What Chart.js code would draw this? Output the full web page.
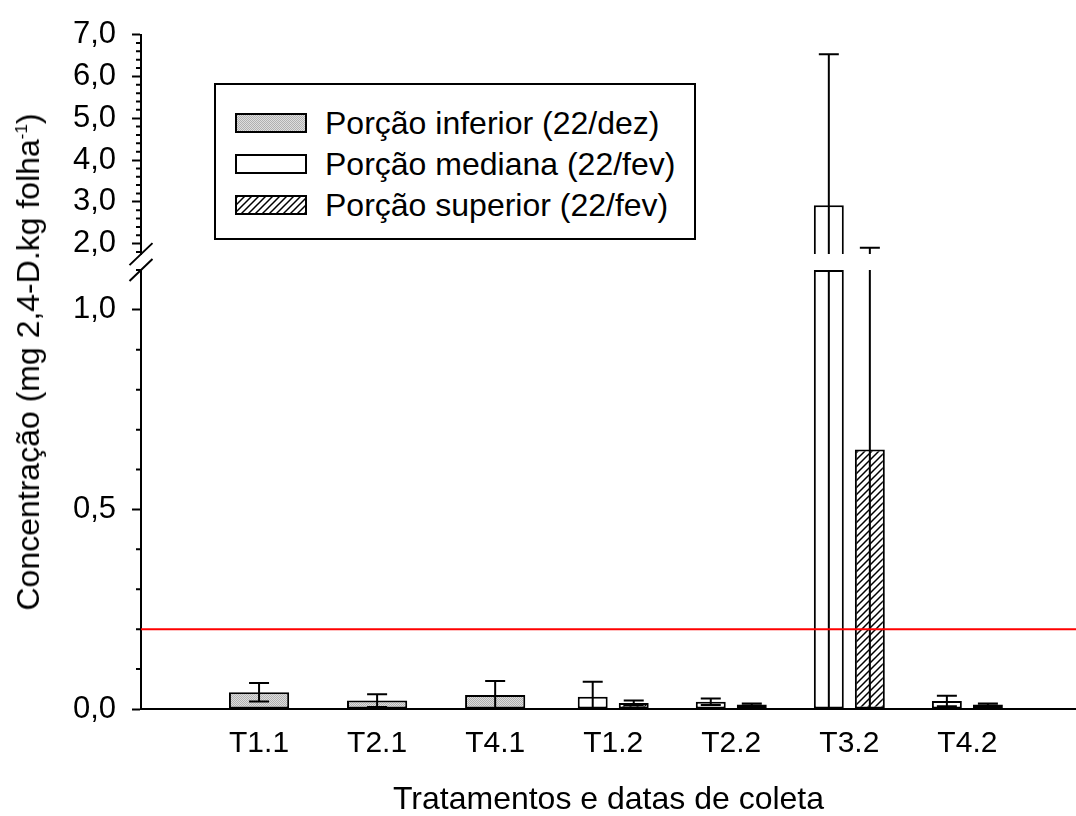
<!DOCTYPE html>
<html>
<head>
<meta charset="utf-8">
<script src="https://cdn.jsdelivr.net/npm/chart.js@4.4.0/dist/chart.umd.min.js"></script>
<style>
  body { margin: 0; background: #fff; }
  #wrap { position: relative; width: 1076px; height: 816px; font-family: 'Liberation Sans', Arial, sans-serif; color: #000; }
  #grafico { position: absolute; left: 0; top: 0; }
  #ytitulo { position: absolute; left: 28px; top: 362px; transform: translate(-50%, -50%) rotate(-90deg);
             white-space: nowrap; font-size: 32px; line-height: 1; }
  #ytitulo sup { font-size: 17px; line-height: 0; }
  #legenda { position: absolute; left: 214px; top: 83px; width: 482px; height: 157px; box-sizing: border-box;
             border: 2px solid #000; background: #fff; }
  .item { position: absolute; left: 235px; height: 36px; display: flex; align-items: center; }
  .caixa { width: 72px; height: 20px; box-sizing: border-box; border: 2px solid #000; margin-right: 18px; background: #fff; }
  .item span { font-size: 32px; line-height: 36px; white-space: nowrap; }
</style>
</head>
<body>
<div id="wrap">
  <canvas id="grafico" width="1076" height="816"></canvas>
  <div id="ytitulo">Concentração (mg 2,4-D.kg folha<sup>-1</sup>)</div>
  <div id="legenda"></div>
</div>
<script>
// valores (mg 2,4-D.kg folha-1)
var categorias = ['T1.1', 'T2.1', 'T4.1', 'T1.2', 'T2.2', 'T3.2', 'T4.2'];
var series = ['Porção inferior (22/dez)', 'Porção mediana (22/fev)', 'Porção superior (22/fev)'];

var inferior     = [0.042, 0.021, 0.035, null, null, null, null];
var erroInferior = [0.023, 0.016, 0.035, null, null, null, null];
var mediana      = [null, null, null, 0.031, 0.018, 2.92, 0.020];
var erroMediana  = [null, null, null, 0.037, 0.008, 3.61, 0.013];
var superior     = [null, null, null, 0.015, 0.011, 0.65, 0.011];
var erroSuperior = [null, null, null, 0.006, 0.003, 1.25, 0.003];

var limite = 0.2;   // linha vermelha

// eixo y quebrado
var ticksBaixo = [0, 0.5, 1.0];
var ticksCima = [2, 3, 4, 5, 6, 7];
var BAIXO_MAX = 1.1, CIMA_MIN = 1.75, CIMA_MAX = 7;

// padroes de preenchimento
function tile(tipo) {
  var c = document.createElement('canvas');
  var g = c.getContext('2d');
  if (tipo === 'pontos') {
    c.width = 2; c.height = 2;
    g.fillStyle = '#dedede'; g.fillRect(0, 0, 2, 2);
    g.fillStyle = '#b0b0b0'; g.fillRect(0, 0, 1, 1); g.fillRect(1, 1, 1, 1);
  } else {
    c.width = 7; c.height = 7;
    g.fillStyle = '#fff'; g.fillRect(0, 0, 7, 7);
    g.strokeStyle = '#000'; g.lineWidth = 1.5;
    g.beginPath();
    g.moveTo(0, 7); g.lineTo(7, 0);
    g.moveTo(-1, 1); g.lineTo(1, -1);
    g.moveTo(6, 8); g.lineTo(8, 6);
    g.stroke();
  }
  return c;
}
var tilePontos = tile('pontos'), tileHachura = tile('hachura');
var ctx = document.getElementById('grafico').getContext('2d');
var pontilhado = ctx.createPattern(tilePontos, 'repeat');
var hachura = ctx.createPattern(tileHachura, 'repeat');

function pontos(vals, f) {
  return vals.map(function (v, i) { return { x: i + 1, y: v == null ? null : f(v) }; });
}
function baixo(v) { return Math.min(v, BAIXO_MAX); }
function cima(v) { return v > CIMA_MIN ? v : null; }

var barra = { borderColor: '#000', borderWidth: 2, borderSkipped: false };
var fev = { categoryPercentage: 0.695, barPercentage: 0.73 };

// recorta cada serie no trecho do seu eixo
var recorte = {
  id: 'recorte',
  beforeDatasetDraw: function (chart, args) {
    var s = args.meta.vScale, a = chart.chartArea, c = chart.ctx;
    c.save();
    c.beginPath();
    c.rect(a.left, s.top, a.right - a.left, s.bottom - s.top);
    c.clip();
  },
  afterDatasetDraw: function (chart) { chart.ctx.restore(); }
};

var erros = {
  id: 'erros',
  afterDatasetsDraw: function (chart) {
    var c = chart.ctx, a = chart.chartArea;
    [chart.scales.y, chart.scales.y2].forEach(function (s) {
      c.save();
      c.beginPath();
      c.rect(a.left, s.top, a.right - a.left, s.bottom - s.top);
      c.clip();
      c.strokeStyle = '#000';
      c.lineWidth = 2;
      chart.data.datasets.forEach(function (ds, i) {
        if (!ds.erros) return;
        var meta = chart.getDatasetMeta(i);
        ds.valores.forEach(function (v, j) {
          if (v == null) return;
          var x = meta.data[j].x;
          var y1 = s.getPixelForValue(v + ds.erros[j]);
          var y2 = s.getPixelForValue(v - ds.erros[j]);
          c.beginPath();
          c.moveTo(x, y1); c.lineTo(x, y2);
          c.moveTo(x - 10, y1); c.lineTo(x + 10, y1);
          c.moveTo(x - 10, y2); c.lineTo(x + 10, y2);
          c.stroke();
        });
      });
      c.restore();
    });
    // linha de referencia
    var yl = chart.scales.y.getPixelForValue(limite);
    c.save();
    c.strokeStyle = '#ff0000';
    c.lineWidth = 2;
    c.beginPath();
    c.moveTo(a.left, yl); c.lineTo(a.right, yl);
    c.stroke();
    c.restore();
  }
};

// ticks menores e marcas da quebra
var quebra = {
  id: 'quebra',
  afterDraw: function (chart) {
    var c = chart.ctx, x0 = chart.chartArea.left;
    var sb = chart.scales.y, sc = chart.scales.y2;
    c.save();
    c.strokeStyle = '#000';
    c.lineWidth = 2;
    c.beginPath();
    var k, v, p;
    for (k = 1; k <= 11; k++) {
      v = k / 10;
      if (ticksBaixo.indexOf(v) >= 0) continue;
      p = sb.getPixelForValue(v);
      c.moveTo(x0 - 5, p); c.lineTo(x0, p);
    }
    for (k = 9; k <= 35; k++) {
      v = k / 5;
      if (ticksCima.indexOf(v) >= 0) continue;
      p = sc.getPixelForValue(v);
      c.moveTo(x0 - 5, p); c.lineTo(x0, p);
    }
    [sc.bottom, sb.top].forEach(function (y) {
      c.moveTo(x0 - 11.5, y + 11);
      c.lineTo(x0 + 11.5, y - 11);
    });
    c.stroke();
    c.restore();
  }
};

function rotulo(v) { return v.toFixed(1).replace('.', ','); }

var eixoY = {
  type: 'linear', position: 'left', stack: 'esq', stacked: false,
  border: { display: true, color: '#000', width: 2 },
  grid: { display: true, drawOnChartArea: false, drawTicks: true, tickLength: 9, tickWidth: 2, tickColor: '#000', color: '#000' },
  ticks: { color: '#000', font: { size: 31 }, padding: 16, autoSkip: false, callback: rotulo },
  afterFit: function (s) { s.width = 141; }
};

Chart.defaults.font.family = "'Liberation Sans', Arial, sans-serif";
Chart.defaults.color = '#000';

new Chart(ctx, {
  type: 'bar',
  data: {
    datasets: [
      Object.assign({ label: series[0], data: pontos(inferior, baixo), yAxisID: 'y', grouped: false,
        categoryPercentage: 1, barPercentage: 0.51, backgroundColor: pontilhado,
        valores: inferior, erros: erroInferior }, barra),
      Object.assign({ label: series[1], data: pontos(mediana, baixo), yAxisID: 'y', stack: 'med',
        backgroundColor: '#fff', valores: mediana, erros: erroMediana }, barra, fev),
      Object.assign({ label: series[2], data: pontos(superior, baixo), yAxisID: 'y', stack: 'sup',
        backgroundColor: hachura, valores: superior, erros: erroSuperior }, barra, fev),
      Object.assign({ label: series[1], data: pontos(mediana, cima), yAxisID: 'y2', stack: 'med',
        backgroundColor: '#fff' }, barra, fev),
      Object.assign({ label: series[2], data: pontos(superior, cima), yAxisID: 'y2', stack: 'sup',
        backgroundColor: hachura }, barra, fev)
    ]
  },
  options: {
    responsive: false,
    animation: false,
    devicePixelRatio: 1,
    layout: { padding: { top: 30, left: 0, right: 0, bottom: 0 } },
    plugins: { legend: { display: false }, tooltip: { enabled: false } },
    scales: {
      x: {
        type: 'linear', min: 0, max: 7.92, offset: false,
        grid: { display: false, drawTicks: false },
        border: { display: true, color: '#000', width: 2 },
        afterBuildTicks: function (s) { s.ticks = categorias.map(function (c, i) { return { value: i + 1 }; }); },
        ticks: { color: '#000', font: { size: 30 }, padding: 17, autoSkip: false, maxRotation: 0,
                 callback: function (v) { return categorias[v - 1]; } },
        title: { display: true, text: 'Tratamentos e datas de coleta', color: '#000',
                 font: { size: 32, lineHeight: 1 }, padding: 0 },
        afterFit: function (s) { s.height = 107; }
      },
      y: Object.assign({}, eixoY, {
        min: 0, max: BAIXO_MAX, stackWeight: 442,
        afterBuildTicks: function (s) { s.ticks = ticksBaixo.map(function (v) { return { value: v }; }); }
      }),
      yq: {
        type: 'linear', position: 'left', stack: 'esq', stackWeight: 16, min: 0, max: 1,
        border: { display: false }, grid: { display: false }, ticks: { display: false },
        afterFit: function (s) { s.width = 141; }
      },
      y2: Object.assign({}, eixoY, {
        min: CIMA_MIN, max: CIMA_MAX, stackWeight: 221,
        afterBuildTicks: function (s) { s.ticks = ticksCima.map(function (v) { return { value: v }; }); }
      })
    }
  },
  plugins: [recorte, erros, quebra]
});

// legenda
var legenda = document.getElementById('wrap');
[tilePontos, null, tileHachura].forEach(function (t, i) {
  var item = document.createElement('div');
  item.className = 'item';
  item.style.top = (105 + 41 * i) + 'px';
  var caixa = document.createElement('div');
  caixa.className = 'caixa';
  if (t) caixa.style.backgroundImage = 'url(' + t.toDataURL() + ')';
  var txt = document.createElement('span');
  txt.textContent = series[i];
  item.appendChild(caixa);
  item.appendChild(txt);
  legenda.appendChild(item);
});
</script>
</body>
</html>
